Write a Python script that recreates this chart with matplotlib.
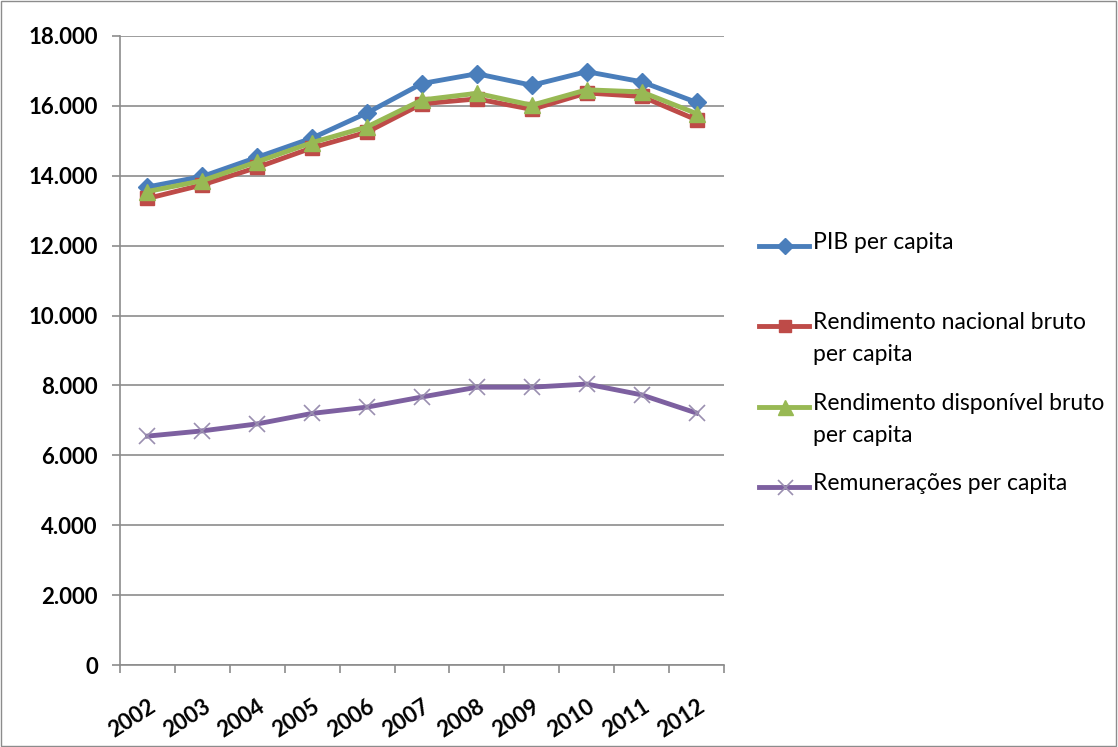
import numpy as np
import matplotlib.pyplot as plt
from matplotlib.lines import Line2D
from matplotlib.patches import Rectangle
from matplotlib.ticker import FuncFormatter

# data
years = ['2002', '2003', '2004', '2005', '2006', '2007',
         '2008', '2009', '2010', '2011', '2012']
pib = [13680, 13980, 14530, 15080, 15800, 16640, 16920, 16590, 16980, 16690, 16100]
rnb = [13350, 13740, 14240, 14800, 15250, 16060, 16200, 15900, 16370, 16270, 15600]
rdb = [13550, 13860, 14400, 14950, 15400, 16170, 16360, 16020, 16460, 16400, 15780]
remun = [6550, 6700, 6900, 7200, 7380, 7670, 7950, 7950, 8040, 7730, 7210]

labels = ['PIB per capita',
          'Rendimento nacional bruto\nper capita',
          'Rendimento disponível bruto\nper capita',
          'Remunerações per capita']
colors = ['#4A7EBB', '#BE4B48', '#98B954', '#7D60A0']

plt.rcParams['font.family'] = ['Lato', 'DejaVu Sans']

fig = plt.figure(figsize=(11.18, 7.47), dpi=100)
ax = fig.add_axes([120 / 1118, 1 - 665 / 747, 604 / 1118, 629 / 747])

x = np.arange(len(years))
styles = [
    dict(marker='D', markersize=9),
    dict(marker='s', markersize=10),
    dict(marker='^', markersize=12),
    dict(marker='x', markersize=12, markeredgewidth=1.2, markeredgecolor='#9a8fb0'),
]
series = [pib, rnb, rdb, remun]
for vals, col, st in zip(series, colors, styles):
    ax.plot(x, vals, color=col, linewidth=3.5, zorder=3, **st)

ax.set_xlim(-0.5, len(years) - 0.5)
ax.set_ylim(0, 18000)
ax.set_yticks(np.arange(0, 18001, 2000))
ax.yaxis.set_major_formatter(FuncFormatter(lambda v, p: f'{int(v):,}'.replace(',', '.')))
ax.grid(axis='y', color='#8c8c8c', linewidth=1.2, zorder=0)

ax.set_xticks(x)
ax.set_xticklabels(years, rotation=33, ha='right', rotation_mode='anchor')
ax.set_xticks(np.arange(-0.5, len(years)), minor=True)
ax.tick_params(axis='x', which='major', length=0, pad=22)
ax.tick_params(axis='x', which='minor', length=6, color='#8c8c8c', width=1.2)
ax.tick_params(axis='y', length=6, color='#8c8c8c', width=1.2, pad=10)
for lab in ax.get_xticklabels() + ax.get_yticklabels():
    lab.set_fontsize(16)
    lab.set_fontweight('bold')

for side in ['top', 'right']:
    ax.spines[side].set_visible(False)
for side in ['left', 'bottom']:
    ax.spines[side].set_color('#8c8c8c')
    ax.spines[side].set_linewidth(1.2)

# legend drawn by hand so the handle lines up with the first text line
leg_y = [246, 326, 407, 487]
for lab, col, st, yy in zip(labels, colors, styles, leg_y):
    fy = 1 - yy / 747
    fig.add_artist(Line2D([759 / 1118, 809 / 1118], [fy, fy], color=col,
                          linewidth=3.5, transform=fig.transFigure))
    mk = dict(st)
    mk['markersize'] = mk['markersize'] * 0.9
    fig.add_artist(Line2D([785 / 1118], [fy], color=col, transform=fig.transFigure,
                          linestyle='none', **mk))
    fig.text(813 / 1118, fy + 14 / 747, lab, fontsize=16.5, va='top', ha='left',
             linespacing=1.65, transform=fig.transFigure)

# outer chart border
fig.add_artist(Rectangle((0.001, 0.001), 0.997, 0.997, transform=fig.transFigure,
                         fill=False, edgecolor='#8c8c8c', linewidth=1))

fig.savefig('out.png', dpi=100)
